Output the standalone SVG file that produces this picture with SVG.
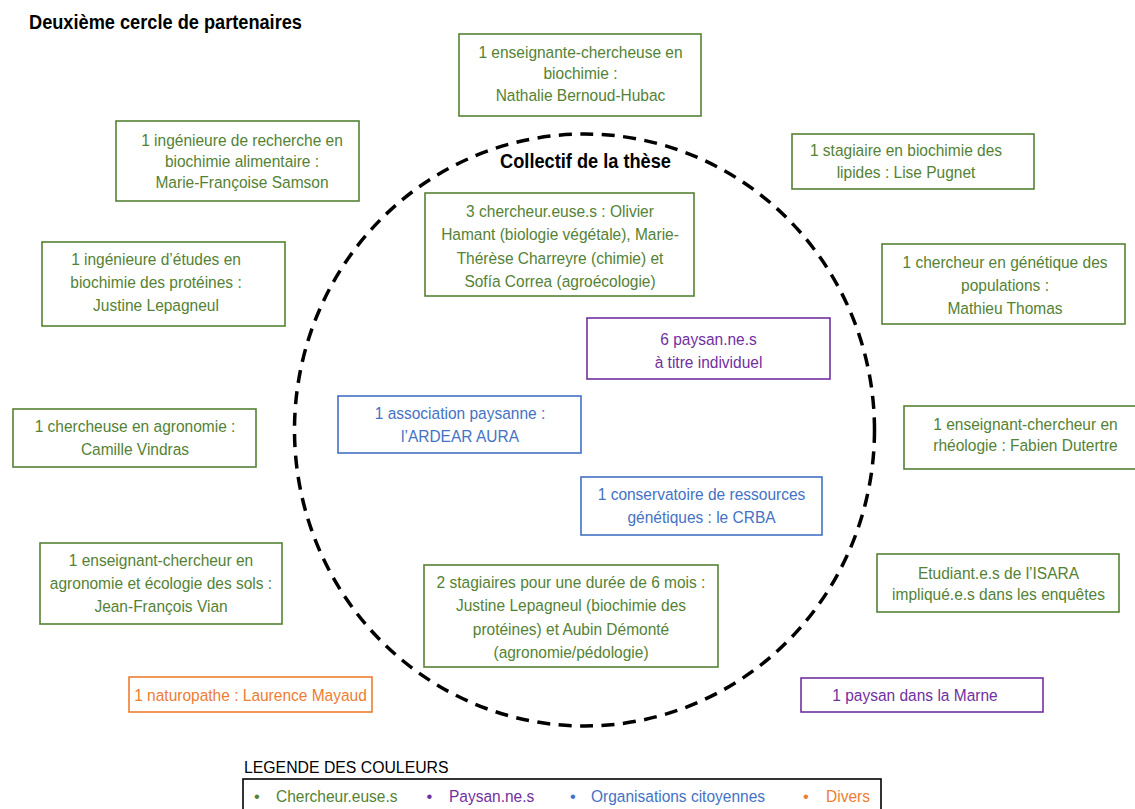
<svg xmlns="http://www.w3.org/2000/svg" width="1135" height="809" viewBox="0 0 1135 809">
<style>
.bx{fill:#fff;stroke-width:1.6}
.sg{stroke:#548235}.sp{stroke:#7030A0}.sb{stroke:#4472C4}.so{stroke:#ED7D31}
.t{font-family:"Liberation Sans",Arial,sans-serif;font-size:16.5px;text-anchor:middle}
.tl{font-family:"Liberation Sans",Arial,sans-serif;font-size:16.5px;text-anchor:start}
.hd{font-family:"Liberation Sans",Arial,sans-serif;font-size:20px;font-weight:bold;fill:#000}
.fg{fill:#548235}.fp{fill:#7030A0}.fb{fill:#4472C4}.fo{fill:#ED7D31}
</style>
<rect x="0" y="0" width="1135" height="809" fill="#fff"/>
<g id="title">
<text class="hd" transform="translate(29 0) scale(0.91 1)" x="0" y="29">Deuxième cercle de partenaires</text>
</g>
<g id="collectif">
<ellipse cx="584.5" cy="430" rx="290" ry="296" fill="none" stroke="#000" stroke-width="3.5" stroke-dasharray="13 8.5"/>
<text class="hd" transform="translate(585.5 0) scale(0.91 1)" x="0" y="168.5" text-anchor="middle">Collectif de la thèse</text>
</g>
<g id="connectors"/>
<g id="n-bernoud">
<rect class="bx sg" x="459" y="34" width="242" height="82"/>
<text class="t fg" transform="translate(580.5 0) scale(0.94 1)"><tspan x="0" y="58">1 enseignante-chercheuse en</tspan><tspan x="0" y="79.5">biochimie :</tspan><tspan x="0" y="101">Nathalie Bernoud-Hubac</tspan></text>
</g>
<g id="n-samson">
<rect class="bx sg" x="116" y="121" width="243" height="80"/>
<text class="t fg" transform="translate(242 0) scale(0.94 1)"><tspan x="0" y="146">1 ingénieure de recherche en</tspan><tspan x="0" y="167">biochimie alimentaire :</tspan><tspan x="0" y="188.5">Marie-Françoise Samson</tspan></text>
</g>
<g id="n-lepagneul">
<rect class="bx sg" x="42" y="242" width="243" height="84"/>
<text class="t fg" transform="translate(156 0) scale(0.94 1)"><tspan x="0" y="265.5">1 ingénieure d’études en</tspan><tspan x="0" y="288.5">biochimie des protéines :</tspan><tspan x="0" y="311.5">Justine Lepagneul</tspan></text>
</g>
<g id="n-vindras">
<rect class="bx sg" x="13" y="409" width="243" height="58"/>
<text class="t fg" transform="translate(135 0) scale(0.94 1)"><tspan x="0" y="432">1 chercheuse en agronomie :</tspan><tspan x="0" y="455">Camille Vindras</tspan></text>
</g>
<g id="n-vian">
<rect class="bx sg" x="40" y="543" width="242" height="81"/>
<text class="t fg" transform="translate(161 0) scale(0.94 1)"><tspan x="0" y="566.5">1 enseignant-chercheur en</tspan><tspan x="0" y="589.5">agronomie et écologie des sols :</tspan><tspan x="0" y="612.5">Jean-François Vian</tspan></text>
</g>
<g id="n-mayaud">
<rect class="bx so" x="129" y="677" width="243" height="35"/>
<text class="t fo" transform="translate(250.5 0) scale(0.94 1)" x="0" y="701">1 naturopathe : Laurence Mayaud</text>
</g>
<g id="n-chercheurs">
<rect class="bx sg" x="425" y="193" width="269" height="103"/>
<text class="t fg" transform="translate(560 0) scale(0.94 1)"><tspan x="0" y="217.5">3 chercheur.euse.s : Olivier</tspan><tspan x="0" y="240.5">Hamant (biologie végétale), Marie-</tspan><tspan x="0" y="264">Thérèse Charreyre (chimie) et</tspan><tspan x="0" y="287">Sofía Correa (agroécologie)</tspan></text>
</g>
<g id="n-paysans">
<rect class="bx sp" x="587" y="318" width="243" height="61"/>
<text class="t fp" transform="translate(708.5 0) scale(0.94 1)"><tspan x="0" y="345">6 paysan.ne.s</tspan><tspan x="0" y="368">à titre individuel</tspan></text>
</g>
<g id="n-ardear">
<rect class="bx sb" x="338" y="396" width="243" height="57"/>
<text class="t fb" transform="translate(460 0) scale(0.94 1)"><tspan x="0" y="419.5">1 association paysanne :</tspan><tspan x="0" y="442">l’ARDEAR AURA</tspan></text>
</g>
<g id="n-crba">
<rect class="bx sb" x="581" y="477" width="241" height="58"/>
<text class="t fb" transform="translate(701.5 0) scale(0.94 1)"><tspan x="0" y="500.5">1 conservatoire de ressources</tspan><tspan x="0" y="523">génétiques : le CRBA</tspan></text>
</g>
<g id="n-stagiaires">
<rect class="bx sg" x="424" y="565" width="294" height="102"/>
<text class="t fg" transform="translate(571 0) scale(0.94 1)"><tspan x="0" y="588">2 stagiaires pour une durée de 6 mois :</tspan><tspan x="0" y="611.5">Justine Lepagneul (biochimie des</tspan><tspan x="0" y="635">protéines) et Aubin Démonté</tspan><tspan x="0" y="658.5">(agronomie/pédologie)</tspan></text>
</g>
<g id="n-pugnet">
<rect class="bx sg" x="792" y="134" width="242" height="55"/>
<text class="t fg" transform="translate(906 0) scale(0.94 1)"><tspan x="0" y="156">1 stagiaire en biochimie des</tspan><tspan x="0" y="178.5">lipides : Lise Pugnet</tspan></text>
</g>
<g id="n-thomas">
<rect class="bx sg" x="882" y="244" width="243" height="80"/>
<text class="t fg" transform="translate(1005 0) scale(0.94 1)"><tspan x="0" y="268">1 chercheur en génétique des</tspan><tspan x="0" y="291">populations :</tspan><tspan x="0" y="314">Mathieu Thomas</tspan></text>
</g>
<g id="n-dutertre">
<rect class="bx sg" x="904" y="406" width="243" height="63"/>
<text class="t fg" transform="translate(1025.5 0) scale(0.94 1)"><tspan x="0" y="430">1 enseignant-chercheur en</tspan><tspan x="0" y="451.5">rhéologie : Fabien Dutertre</tspan></text>
</g>
<g id="n-isara">
<rect class="bx sg" x="877" y="554" width="242" height="58"/>
<text class="t fg" transform="translate(998.5 0) scale(0.94 1)"><tspan x="0" y="579">Etudiant.e.s de l’ISARA</tspan><tspan x="0" y="600">impliqué.e.s dans les enquêtes</tspan></text>
</g>
<g id="n-marne">
<rect class="bx sp" x="801" y="678" width="242" height="34"/>
<text class="t fp" transform="translate(915 0) scale(0.94 1)" x="0" y="701">1 paysan dans la Marne</text>
</g>
<g id="legend">
<text x="244" y="773" font-family="Liberation Sans, Arial, sans-serif" font-size="15.8" fill="#000">LEGENDE DES COULEURS</text>
<rect x="243" y="779" width="638" height="45" fill="#fff" stroke="#000" stroke-width="1.6"/>
<text class="t fg" x="257" y="802">•</text>
<text class="tl fg" transform="translate(276 0) scale(0.94 1)" x="0" y="802">Chercheur.euse.s</text>
<text class="t fp" x="429.5" y="802">•</text>
<text class="tl fp" transform="translate(449 0) scale(0.94 1)" x="0" y="802">Paysan.ne.s</text>
<text class="t fb" x="573" y="802">•</text>
<text class="tl fb" transform="translate(591 0) scale(0.94 1)" x="0" y="802">Organisations citoyennes</text>
<text class="t fo" x="806" y="802">•</text>
<text class="tl fo" transform="translate(826 0) scale(0.94 1)" x="0" y="802">Divers</text>
</g>
</svg>
